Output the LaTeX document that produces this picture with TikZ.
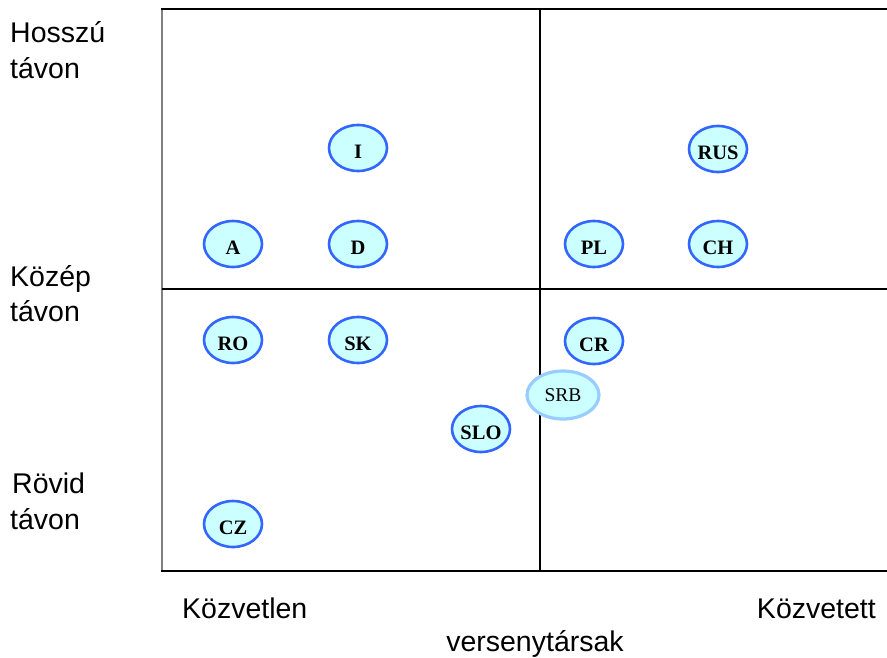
\documentclass[tikz,border=0pt]{standalone}
\usepackage{fontspec}
\setmainfont{Liberation Serif}
\newfontfamily\arialfont{Liberation Sans}
\usetikzlibrary{shapes.geometric}
\definecolor{bubblefill}{HTML}{CCFFFF}
\definecolor{bubbleedge}{HTML}{3366FF}
\definecolor{softedge}{HTML}{99CCFF}
\tikzset{
  country/.style={ellipse, draw=bubbleedge, fill=bubblefill, line width=2.6pt,
    minimum width=58pt, minimum height=46pt, inner sep=0pt,
    text height=21.5pt, text depth=0pt,
    font=\fontsize{20.5}{20.5}\selectfont\bfseries},
  pending/.style={ellipse, draw=softedge, fill=bubblefill, line width=3.2pt,
    minimum width=72pt, minimum height=48pt, inner sep=0pt,
    font=\fontsize{19.5}{19.5}\selectfont},
  axislabel/.style={anchor=base west, inner sep=0pt,
    font=\arialfont\fontsize{28.5}{28.5}\selectfont},
  frame/.style={line width=2.6pt, black},
}
\begin{document}
\begin{tikzpicture}[x=1pt, y=-1pt]
\useasboundingbox (0,0) rectangle (887,657);

% quadrant grid
\draw[gray, line width=1.4pt] (162,9) -- (162,571);
\draw[frame] (161,9) -- (887,9);
\draw[frame] (161,571) -- (887,571);
\draw[frame] (162,289) -- (887,289);
\draw[frame, line width=2.2pt] (540,9) -- (540,571);

% time horizon labels
\node[axislabel] (hl1) at (10,42) {Hosszú};
\node[axislabel] (hl2) at (10,78) {távon};
\node[axislabel] (kl1) at (10,286) {Közép};
\node[axislabel] (kl2) at (10,321) {távon};
\node[axislabel] (rl1) at (12,493) {Rövid};
\node[axislabel] (rl2) at (10,529) {távon};

% competitor type labels
\node[axislabel] (direct) at (182,618) {Közvetlen};
\node[axislabel, anchor=base east] (indirect) at (876,618) {Közvetett};
\node[axislabel, anchor=base] (comp) at (535,651) {versenytársak};

% countries
\node[country] (I)   at (358,148) {I};
\node[country] (RUS) at (718,149) {RUS};
\node[country] (A)   at (233,244) {A};
\node[country] (D)   at (358,244) {D};
\node[country] (PL)  at (594,244) {PL};
\node[country] (CH)  at (718,244) {CH};
\node[country] (RO)  at (233,340) {RO};
\node[country] (SK)  at (358,340) {SK};
\node[country] (CR)  at (594,341) {CR};
\node[country] (SLO) at (481,429) {SLO};
\node[country] (CZ)  at (233,524) {CZ};
\node[pending] (SRB) at (563,395) {SRB};
\end{tikzpicture}
\end{document}
